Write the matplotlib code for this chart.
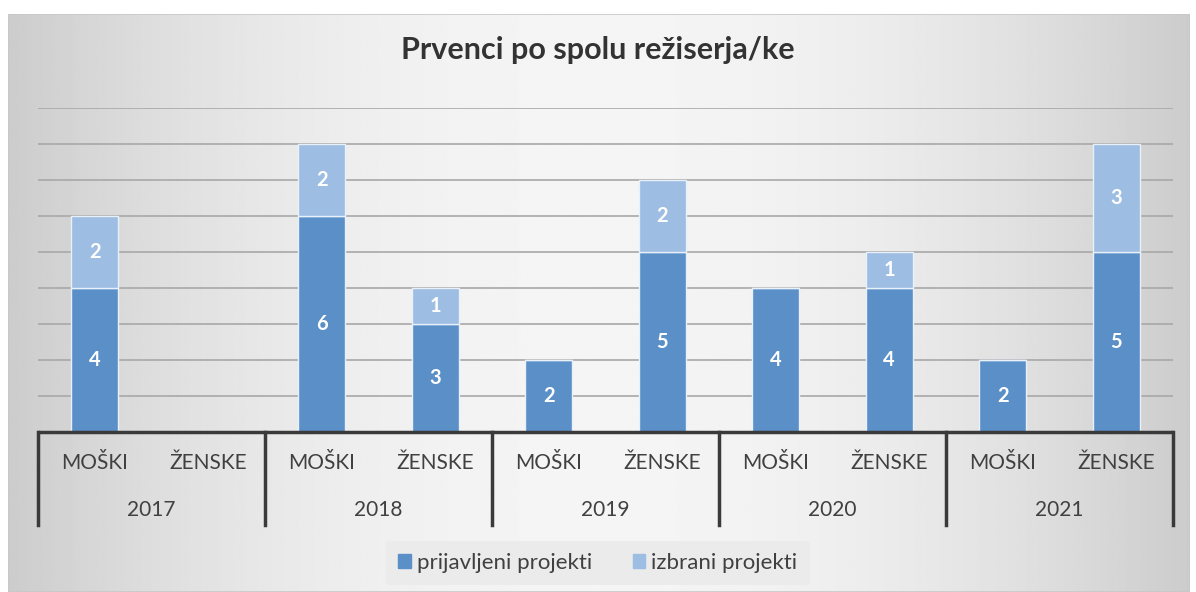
import numpy as np
import matplotlib
matplotlib.use("Agg")
import matplotlib.pyplot as plt
import matplotlib.transforms as mtransforms
from matplotlib.patches import Patch

# ── Data ──────────────────────────────────────────────────────────────────────
years = ["2017", "2018", "2019", "2020", "2021"]
genders = ["MOŠKI", "ŽENSKE"]
prijavljeni = [4, 0, 6, 3, 2, 5, 4, 4, 2, 5]   # per year: moški, ženske
izbrani     = [2, 0, 2, 1, 0, 2, 0, 1, 0, 3]
series_names = ["prijavljeni projekti", "izbrani projekti"]
title = "Prvenci po spolu režiserja/ke"

# ── Style ─────────────────────────────────────────────────────────────────────
plt.rcParams["font.family"] = ["Lato", "DejaVu Sans"]
C_DARK, C_LIGHT = "#5b8fc8", "#9dbde2"
TXT = "#404040"
W, H = 1196, 592

fig = plt.figure(figsize=(W / 100, H / 100), dpi=100)
fig.patch.set_facecolor("white")

# background panel with a soft horizontal gradient (grey edges, light centre)
bg = fig.add_axes([8 / W, 0, (W - 14) / W, (H - 14) / H])
xs = np.linspace(-1, 1, 400)
grad = 0.80 + 0.16 * (1 - xs ** 2)
bg.imshow(np.tile(grad, (50, 1)), cmap="gray", vmin=0, vmax=1,
          aspect="auto", extent=[0, 1, 0, 1])
bg.set_axis_off()
bg.add_patch(plt.Rectangle((0, 0), 1, 1, transform=bg.transAxes, fill=False,
                           edgecolor="#c8c8c8", lw=1.2))

# ── Plot area ─────────────────────────────────────────────────────────────────
x0, x1, ybase, ytop = 38, 1173, 432, 108
ax = fig.add_axes([x0 / W, (H - ybase) / H, (x1 - x0) / W, (ybase - ytop) / H])
ax.patch.set_alpha(0)
n = len(prijavljeni)
x = np.arange(n)
bw = 0.415
b1 = ax.bar(x, prijavljeni, bw, color=C_DARK, edgecolor="#e8f0fa", lw=1.0,
            label=series_names[0], zorder=3)
b2 = ax.bar(x, izbrani, bw, bottom=prijavljeni, color=C_LIGHT,
            edgecolor="#e8f0fa", lw=1.0, label=series_names[1], zorder=3)
for bars, vals, bottoms in [(b1, prijavljeni, [0] * n), (b2, izbrani, prijavljeni)]:
    for r, v, b in zip(bars, vals, bottoms):
        if v:
            ax.text(r.get_x() + r.get_width() / 2, b + v / 2, str(v),
                    ha="center", va="center", color="white",
                    fontsize=14.5, fontweight="bold", zorder=4)

ax.set_xlim(-0.5, n - 0.5)
ax.set_ylim(0, 9)
ax.set_yticks(range(1, 10))
ax.yaxis.grid(True, color="#a8a8a8", lw=1.2, zorder=0)
ax.tick_params(left=False, labelleft=False, bottom=False, labelbottom=False)
for s in ax.spines.values():
    s.set_visible(False)

# ── Two-level category axis ───────────────────────────────────────────────────
tr = mtransforms.blended_transform_factory(ax.transData, fig.transFigure)
y_axis = (H - ybase) / H
y_sep = (H - 525) / H
ax.plot([-0.5, n - 0.5], [y_axis, y_axis], transform=tr, color="#3a3a3a",
        lw=2.5, clip_on=False, zorder=5, solid_capstyle="butt")
for k in range(len(years) + 1):
    xx = -0.5 + 2 * k
    ax.plot([xx, xx], [y_axis, y_sep], transform=tr, color="#3a3a3a",
            lw=2.5, clip_on=False, zorder=5)
for i in range(n):
    ax.text(i, (H - 463) / H, genders[i % 2], transform=tr, ha="center",
            va="center", fontsize=15, color=TXT)
for k, yr in enumerate(years):
    ax.text(2 * k + 0.5, (H - 510) / H, yr, transform=tr, ha="center",
            va="center", fontsize=15, color=TXT)

fig.text(0.5, (H - 50) / H, title, ha="center", va="center",
         fontsize=22, fontweight="bold", color="#333333")

leg = fig.legend(handles=[Patch(color=C_DARK), Patch(color=C_LIGHT)],
                 labels=series_names, loc="center", ncol=2,
                 bbox_to_anchor=(0.5, (H - 563) / H), frameon=True,
                 fontsize=16, handlelength=0.55, handleheight=0.55,
                 handletextpad=0.3, columnspacing=1.8, borderpad=0.55)
leg.get_frame().set_facecolor("#ebebeb")
leg.get_frame().set_edgecolor("none")
leg.get_frame().set_alpha(1)
for t in leg.get_texts():
    t.set_color(TXT)

fig.savefig("out.png", dpi=100)
